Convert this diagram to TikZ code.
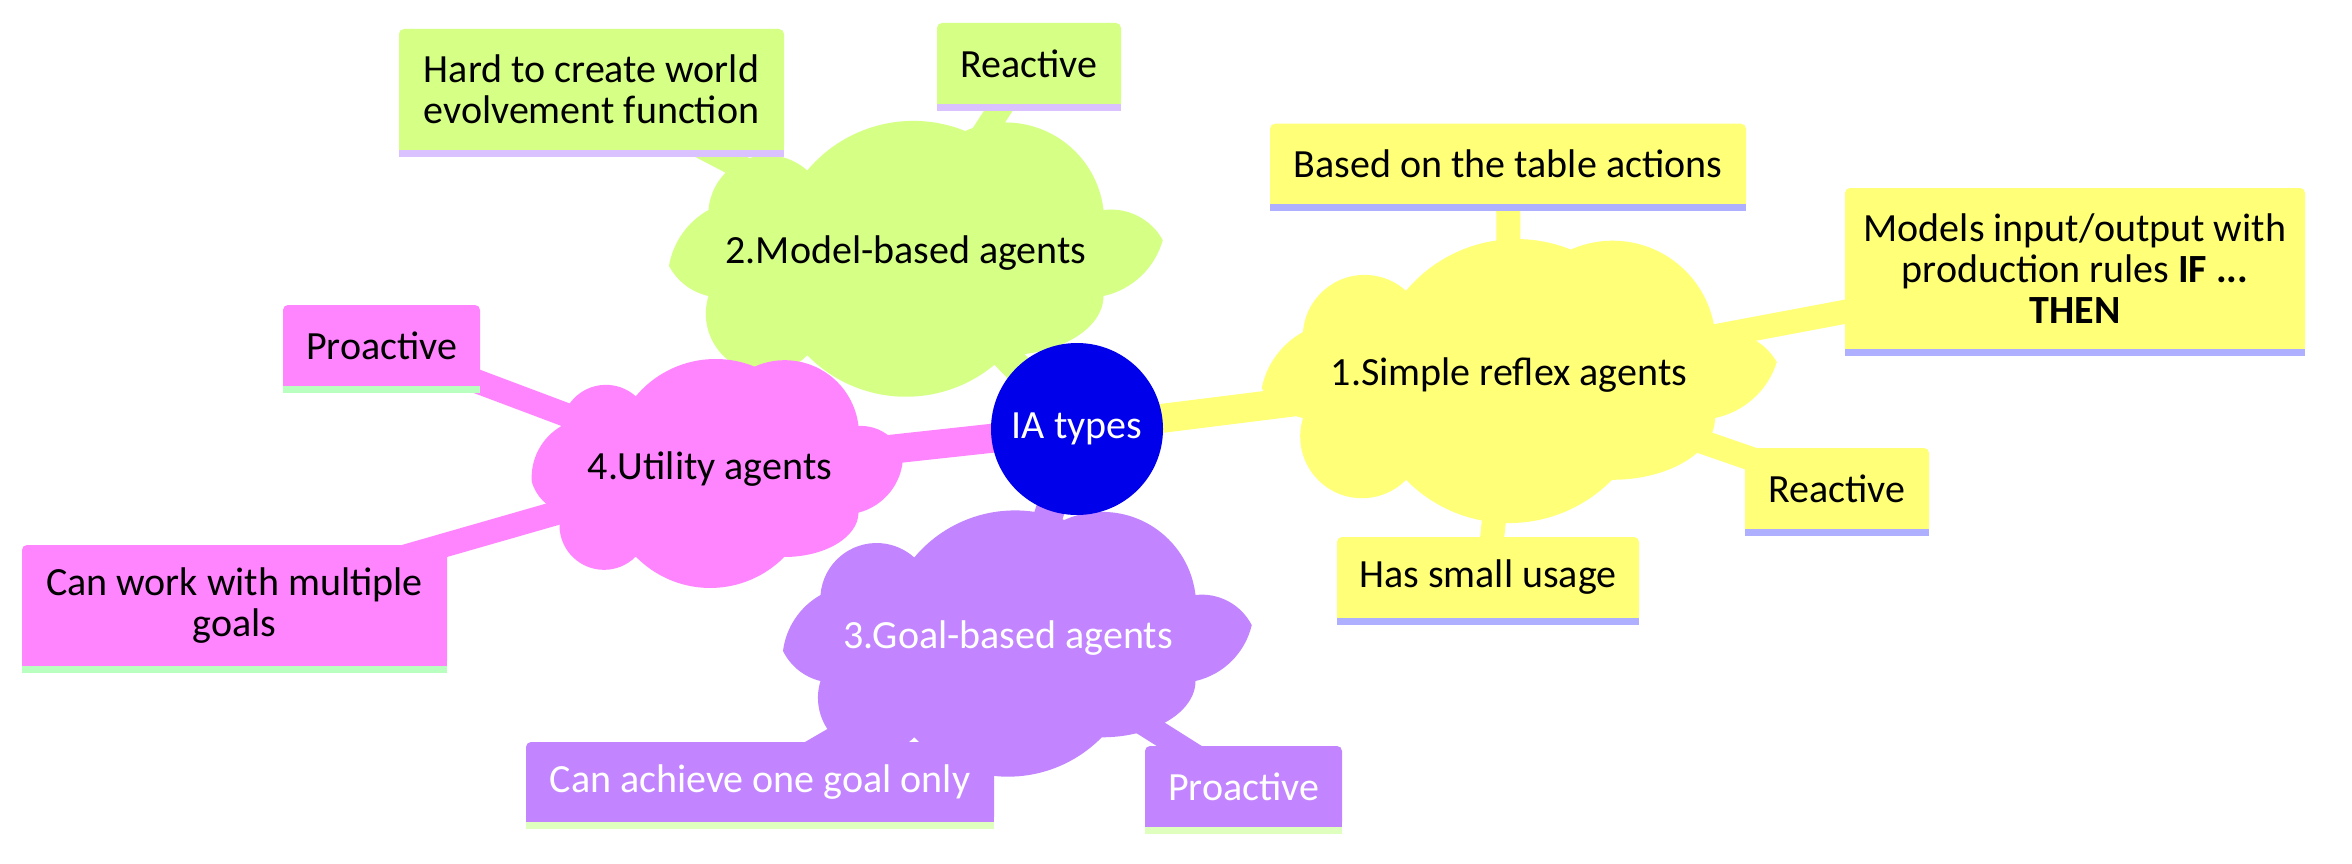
\documentclass[tikz,border=0pt]{standalone}
\usepackage{fontspec}
\setmainfont{Carlito}
\usetikzlibrary{svg.path}
\definecolor{secY}{HTML}{FFFF78}
\definecolor{secG}{HTML}{D6FF85}
\definecolor{secM}{HTML}{FF85FF}
\definecolor{secP}{HTML}{C285FF}
\definecolor{strY}{HTML}{AFAFFF}
\definecolor{strG}{HTML}{D9C2FF}
\definecolor{strM}{HTML}{B9FFC0}
\definecolor{strP}{HTML}{DEFFBE}
\definecolor{rootblue}{HTML}{0000EB}
\pgfdeclarelayer{bg}
\pgfdeclarelayer{edges}
\pgfsetlayers{bg,edges,main}
\tikzset{
  txt/.style={font=\fontsize{40}{41}\selectfont, align=center, inner sep=0pt},
  cloudlabel/.style={txt},
  leaf/.style={txt, rectangle, rounded corners=5pt},
  rootedge/.style={line width=29pt},
  leafedge/.style={line width=24pt},
}
\begin{document}
\begin{tikzpicture}[x=1pt,y=-1pt]
\useasboundingbox (0,0) rectangle (2352,864);
\begin{pgfonlayer}{bg}
\fill[white] (0,0) rectangle (2352,864);
\end{pgfonlayer}

% clouds
\fill[secY, shift={(1303,332)}] svg "M 0 0 a 61.8 61.8 0 0 0 103 41.2 a 144.2 144.2 0 0 0 164.8 41.2 a 103 103 0 0 0 144.2 -82.4 a 61.8 61.8 0 0 0 61.8 -30.1 a 82.4 82.4 0 0 0 -61.8 -55.9 a 103 61.8 0 0 0 -103 -61.8 a 144.2 144.2 0 0 0 -206 0 a 61.8 61.8 0 0 0 -103 61.8 a 61.8 61.8 0 0 0 -41.2 30.1 a 82.4 82.4 0 0 0 41.2 55.9 Z";
\fill[secG, shift={(708.5,210)}] svg "M 0 0 a 59.25 59.25 0 0 0 98.75 39.5 a 138.25 138.25 0 0 0 158 39.5 a 98.75 98.75 0 0 0 138.25 -79 a 59.25 59.25 0 0 0 59.25 -30.1 a 79 79 0 0 0 -59.25 -55.9 a 98.75 59.25 0 0 0 -98.75 -59.25 a 138.25 138.25 0 0 0 -197.5 0 a 59.25 59.25 0 0 0 -98.75 59.25 a 59.25 59.25 0 0 0 -39.5 30.1 a 79 79 0 0 0 39.5 55.9 Z";
\fill[secM, shift={(561.5,426)}] svg "M 0 0 a 44.55 44.55 0 0 0 74.25 29.7 a 103.95 103.95 0 0 0 118.8 29.7 a 74.25 74.25 0 0 0 103.95 -59.4 a 44.55 44.55 0 0 0 44.55 -30.1 a 59.4 59.4 0 0 0 -44.55 -55.9 a 74.25 44.55 0 0 0 -74.25 -44.55 a 103.95 103.95 0 0 0 -148.5 0 a 44.55 44.55 0 0 0 -74.25 44.55 a 44.55 44.55 0 0 0 -29.7 30.1 a 59.4 59.4 0 0 0 29.7 55.9 Z";
\fill[secP, shift={(820.5,595)}] svg "M 0 0 a 56.25 56.25 0 0 0 93.75 37.5 a 131.25 131.25 0 0 0 150 37.5 a 93.75 93.75 0 0 0 131.25 -75 a 56.25 56.25 0 0 0 56.25 -30.1 a 75 75 0 0 0 -56.25 -55.9 a 93.75 56.25 0 0 0 -93.75 -56.25 a 131.25 131.25 0 0 0 -187.5 0 a 56.25 56.25 0 0 0 -93.75 56.25 a 56.25 56.25 0 0 0 -37.5 30.1 a 75 75 0 0 0 37.5 55.9 Z";

% root
\node[txt, circle, fill=rootblue, text=white, minimum size=172pt] (root) at (1077,429) {IA types};

% cloud labels
\node[cloudlabel] (simple) at (1509,375) {1.Simple reflex agents};
\node[cloudlabel] (model) at (906,253) {2.Model-based agents};
\node[cloudlabel, text=white] (goal) at (1008,638) {3.Goal-based agents};
\node[cloudlabel] (utility) at (710,469) {4.Utility agents};

% leaves
\node[leaf, fill=secY, minimum width=476pt, minimum height=80.5pt] (based) at (1508,164) {Based on the table actions};
\node[leaf, fill=secY, minimum width=460pt, minimum height=161pt] (models) at (2075,268.5) {Models input/output with\\production rules \textbf{IF ...}\\\textbf{THEN}};
\node[leaf, fill=secY, minimum width=184pt, minimum height=81pt] (reacY) at (1837,488.5) {Reactive};
\node[leaf, fill=secY, minimum width=302pt, minimum height=81pt] (small) at (1488,577.5) {Has small usage};
\node[leaf, fill=secG, minimum width=385pt, minimum height=121pt] (hard) at (591.5,89.5) {Hard to create world\\evolvement function};
\node[leaf, fill=secG, minimum width=184pt, minimum height=81pt] (reacG) at (1029,63.5) {Reactive};
\node[leaf, fill=secM, minimum width=197pt, minimum height=81pt] (proM) at (381.5,345.5) {Proactive};
\node[leaf, fill=secM, minimum width=425pt, minimum height=121pt] (work) at (234.5,605.5) {Can work with multiple\\goals};
\node[leaf, fill=secP, text=white, minimum width=468pt, minimum height=80pt] (achieve) at (760,782) {Can achieve one goal only};
\node[leaf, fill=secP, text=white, minimum width=197pt, minimum height=81pt] (proP) at (1243.5,786.5) {Proactive};

\foreach \n/\c/\s in {based/secY/strY, models/secY/strY, reacY/secY/strY, small/secY/strY,
  hard/secG/strG, reacG/secG/strG, proM/secM/strM, work/secM/strM,
  achieve/secP/strP, proP/secP/strP}{
  \fill[\c] ([yshift=6pt]\n.south west) rectangle (\n.south east);
  \fill[\s] (\n.south west) rectangle ([yshift=-7pt]\n.south east);
}

% edges
\begin{pgfonlayer}{edges}
\draw[rootedge, secY] (root.center) -- (simple.center);
\draw[rootedge, secG] (root.center) -- (model.center);
\draw[rootedge, secP] (root.center) -- (goal.center);
\draw[rootedge, secM] (root.center) -- (utility.center);
\draw[leafedge, secY] (simple.center) -- (based.center);
\draw[leafedge, secY] (simple.center) -- (models.center);
\draw[leafedge, secY] (simple.center) -- (reacY.center);
\draw[leafedge, secY] (simple.center) -- (small.center);
\draw[leafedge, secG] (model.center) -- (hard.center);
\draw[leafedge, secG] (model.center) -- (reacG.center);
\draw[leafedge, secM] (utility.center) -- (proM.center);
\draw[leafedge, secM] (utility.center) -- (work.center);
\draw[leafedge, secP] (goal.center) -- (achieve.center);
\draw[leafedge, secP] (goal.center) -- (proP.center);
\end{pgfonlayer}
\end{tikzpicture}
\end{document}
